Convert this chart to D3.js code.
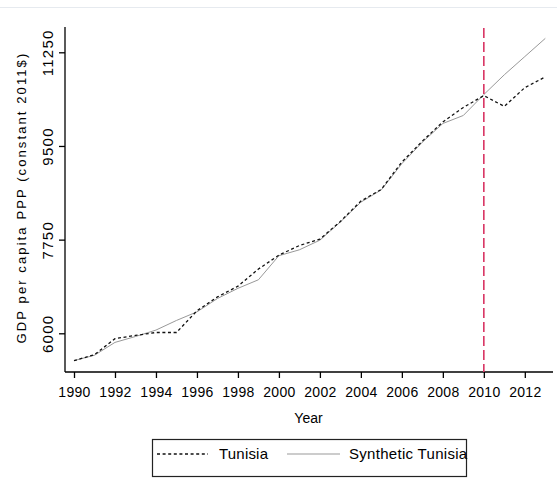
<!DOCTYPE html>
<html>
<head>
<meta charset="utf-8">
<script src="https://cdn.jsdelivr.net/npm/d3@7"></script>
<style>
  html, body { margin: 0; padding: 0; background: #fff; }
  svg { display: block; }
  text { font-family: "Liberation Sans", Arial, sans-serif; fill: #000; }
</style>
</head>
<body>
<svg id="chart" width="557" height="485"></svg>
<script>
// ---- data ----
const years = [1990,1991,1992,1993,1994,1995,1996,1997,1998,1999,2000,2001,2002,2003,2004,2005,2006,2007,2008,2009,2010,2011,2012,2013];
const tunisia = [5490,5600,5900,5960,6015,6015,6420,6680,6880,7200,7460,7640,7760,8090,8470,8690,9200,9590,9950,10220,10440,10240,10590,10790];
const synthetic = [5490,5590,5830,5940,6060,6240,6400,6650,6840,7000,7450,7560,7740,8080,8450,8680,9170,9570,9920,10070,10460,10830,11170,11510];
const xTicks = [1990,1992,1994,1996,1998,2000,2002,2004,2006,2008,2010,2012];
const yTicks = [6000,7750,9500,11250];
const treatmentYear = 2010;
const seriesNames = ["Tunisia", "Synthetic Tunisia"];

// ---- layout ----
const svg = d3.select("#chart");
const x = d3.scaleLinear().domain([1990, 2013]).range([74, 545.3]);
const y = d3.scaleLinear().domain([6000, 11250]).range([333.3, 52.3]);
const axisLeftX = 65, axisBottomY = 372, axisTop = 27, axisRight = 553;

// top faint strip
svg.append("line").attr("x1",0).attr("x2",557).attr("y1",7.5).attr("y2",7.5)
  .attr("stroke","#e6eaef").attr("stroke-width",1);

// x axis
const gx = svg.append("g").attr("transform", `translate(0,${axisBottomY})`)
  .call(d3.axisBottom(x).tickValues(xTicks).tickFormat(d3.format("d")).tickSize(6).tickPadding(6));
gx.select(".domain").remove();
gx.selectAll(".tick line").attr("stroke","#000").attr("stroke-width",1.3);
gx.selectAll(".tick text").style("font-size","14px").attr("fill","#000")
  .style("letter-spacing","0.3px")
  .style("font-family","'Liberation Sans', Arial, sans-serif").attr("dy","0.95em");
svg.append("line").attr("x1",axisLeftX).attr("x2",axisRight).attr("y1",axisBottomY).attr("y2",axisBottomY)
  .attr("stroke","#000").attr("stroke-width",1.3);

// y axis
const gy = svg.append("g").attr("transform", `translate(${axisLeftX},0)`)
  .call(d3.axisLeft(y).tickValues(yTicks).tickFormat(d3.format("d")).tickSize(6));
gy.select(".domain").remove();
gy.selectAll(".tick line").attr("stroke","#000").attr("stroke-width",1.3);
gy.selectAll(".tick text").remove();
gy.selectAll(".tick").append("text")
  .attr("transform","translate(-12.5,0) rotate(-90)")
  .attr("text-anchor","middle")
  .style("font-size","15px").style("letter-spacing","1.3px")
  .style("font-family","'Liberation Sans', Arial, sans-serif")
  .attr("fill","#000")
  .text(d => d);
svg.append("line").attr("x1",axisLeftX).attr("x2",axisLeftX).attr("y1",axisTop).attr("y2",axisBottomY)
  .attr("stroke","#000").attr("stroke-width",1.3);

// axis titles
svg.append("text").attr("transform","translate(26,197.5) rotate(-90)")
  .attr("text-anchor","middle").style("font-size","13px").style("letter-spacing","2.1px")
  .text("GDP per capita PPP (constant 2011$)");
svg.append("text").attr("x",308.5).attr("y",423).attr("text-anchor","middle")
  .style("font-size","14px").text("Year");

// lines
const line = d3.line().x((d,i) => x(years[i])).y(d => y(d));
svg.append("path").datum(synthetic).attr("d", line)
  .attr("fill","none").attr("stroke","#999").attr("stroke-width",1);
svg.append("path").datum(tunisia).attr("d", line)
  .attr("fill","none").attr("stroke","#111").attr("stroke-width",1.3)
  .attr("stroke-dasharray","3,2.6");

// treatment line
svg.append("line").attr("x1",x(treatmentYear)).attr("x2",x(treatmentYear))
  .attr("y1",28).attr("y2",axisBottomY)
  .attr("stroke","#d93563").attr("stroke-width",1.6).attr("stroke-dasharray","10,4");

// legend
const lg = svg.append("g");
lg.append("rect").attr("x",152.5).attr("y",439.5).attr("width",314).attr("height",37)
  .attr("fill","#fff").attr("stroke","#222").attr("stroke-width",1.2);
lg.append("line").attr("x1",157).attr("x2",208).attr("y1",454).attr("y2",454)
  .attr("stroke","#111").attr("stroke-width",1.3).attr("stroke-dasharray","3,2.6");
lg.append("text").attr("x",219).attr("y",459).style("font-size","15px").style("letter-spacing","0.2px").text(seriesNames[0]);
lg.append("line").attr("x1",287).attr("x2",340).attr("y1",454).attr("y2",454)
  .attr("stroke","#999").attr("stroke-width",1);
lg.append("text").attr("x",349).attr("y",459).style("font-size","15px").style("letter-spacing","0.3px").text(seriesNames[1]);
</script>
</body>
</html>
